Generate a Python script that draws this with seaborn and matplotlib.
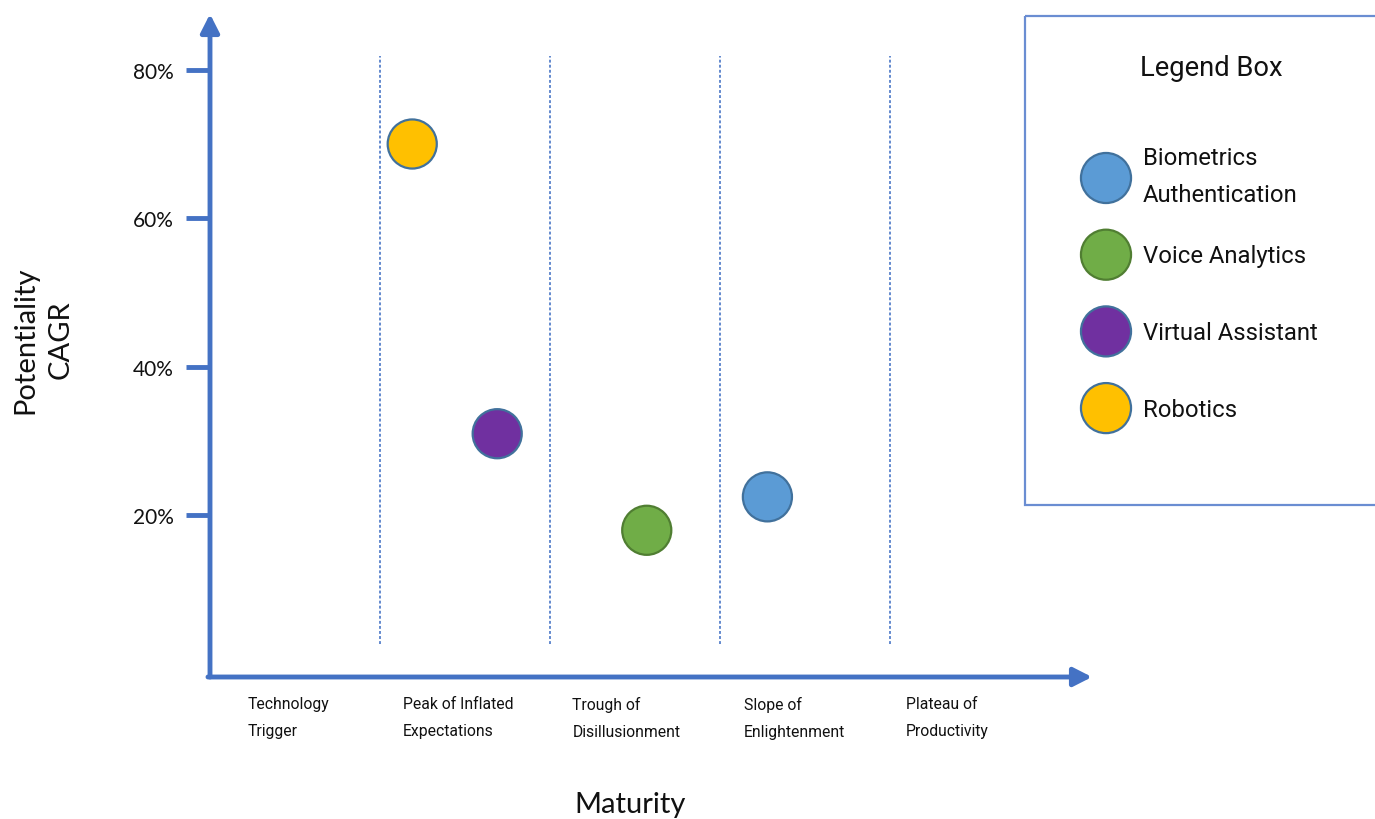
import numpy as np
import pandas as pd
import matplotlib
matplotlib.use("Agg")
import matplotlib.pyplot as plt
from matplotlib.patches import Rectangle
import seaborn as sns

# ---- data -------------------------------------------------------------
technologies = ["Biometrics\nAuthentication", "Voice Analytics",
                "Virtual Assistant", "Robotics"]
maturity = [3.28, 2.57, 1.69, 1.19]      # position along the hype cycle (stage units)
cagr = [22.5, 18, 31, 70]                # potential CAGR, %
fill_colors = ["#5B9BD5", "#70AD47", "#7030A0", "#FFC000"]
edge_colors = ["#41719C", "#507E32", "#41719C", "#41719C"]

stages = ["Technology\nTrigger", "Peak of Inflated\nExpectations",
          "Trough of\nDisillusionment", "Slope of\nEnlightenment",
          "Plateau of\nProductivity"]
y_ticks = [20, 40, 60, 80]
y_tick_labels = ["20%", "40%", "60%", "80%"]

# ---- style ------------------------------------------------------------
sns.set_theme(style="white")
NARROW = "Roboto"
MAIN = "Lato"
plt.rcParams["font.family"] = [MAIN, "DejaVu Sans"]
AXIS_BLUE = "#4472C4"
INK = "#111111"

W, H = 1375, 820
fig = plt.figure(figsize=(W / 100, H / 100), dpi=100)
fig.patch.set_facecolor("white")


def fx(px):
    return px / W


def fy(py):
    return 1 - py / H


# plotting area
ax = fig.add_axes([fx(210), fy(678), fx(1092) - fx(210), fy(15) - fy(678)])
ax.set_facecolor("white")

df = pd.DataFrame({"Technology": technologies, "Maturity": maturity, "CAGR": cagr})
sns.scatterplot(data=df, x="Maturity", y="CAGR", hue="Technology",
                palette=dict(zip(technologies, fill_colors)),
                s=1250, edgecolor=edge_colors, linewidth=1.6,
                legend=False, ax=ax, zorder=4)

XMAX, YMIN, YMAX = 5.19, -1.75, 87.5
ax.set_xlim(0, XMAX)
ax.set_ylim(YMIN, YMAX)
ax.set_xlabel("")
ax.set_ylabel("")
for s in ax.spines.values():
    s.set_visible(False)

# stage separators
ax.vlines([1, 2, 3, 4], 2.7, 81.9, colors=AXIS_BLUE, linestyles=(0, (1.6, 1.2)),
          lw=1.3, alpha=0.9, zorder=1)

# axis arrows
arrow_kw = dict(arrowstyle="-|>,head_length=0.55,head_width=0.28", color=AXIS_BLUE,
                lw=3.5, shrinkA=0, shrinkB=0, mutation_scale=20)
ax.annotate("", xy=(0, YMAX), xytext=(0, YMIN), arrowprops=arrow_kw,
            annotation_clip=False, zorder=3)
ax.annotate("", xy=(XMAX, YMIN), xytext=(-0.012, YMIN), arrowprops=arrow_kw,
            annotation_clip=False, zorder=3)

# y ticks
ax.set_yticks(y_ticks, y_tick_labels)
ax.tick_params(axis="y", left=True, length=17, width=3.5, color=AXIS_BLUE,
               pad=9, labelsize=15, labelcolor=INK)

# stage labels under the x axis
label_x = [0.46, 1.46, 2.45, 3.44, 4.34]
ax.set_xticks(label_x, stages)
ax.tick_params(axis="x", bottom=True, length=0, pad=14, labelsize=11.3,
               labelcolor=INK)
for t in ax.get_xticklabels():
    t.set_family([NARROW, "DejaVu Sans"])
    t.set_multialignment("left")
    t.set_linespacing(1.95)
    t.set_verticalalignment("top")

# axis titles
fig.text(fx(630), fy(805), "Maturity", ha="center", va="center", fontsize=21,
         color=INK)
fig.text(fx(43), fy(340), "Potentiality\nCAGR", rotation=90, ha="center",
         va="center", fontsize=21, linespacing=1.4, multialignment="center",
         color=INK)

# ---- legend box -----------------------------------------------------------
lax = fig.add_axes([0, 0, 1, 1], zorder=5)
lax.set_xlim(0, W)
lax.set_ylim(H, 0)
lax.set_axis_off()
lax.patch.set_visible(False)

lax.add_patch(Rectangle((1025, 17), 420, 489, fill=False, edgecolor="#6A8DD2",
                        lw=1.6, clip_on=False))
lax.text(1211, 69, "Legend Box", ha="center", va="center", fontsize=19.7,
         family=[NARROW, "DejaVu Sans"], color=INK)

entry_y = 179 + 76.7 * np.arange(len(technologies))
lax.scatter(np.full(len(technologies), 1106), entry_y, s=1300, c=fill_colors,
            edgecolors=edge_colors, linewidths=1.6, zorder=3)
for i, (yy, name) in enumerate(zip(entry_y, technologies)):
    lax.text(1143, yy + (-2 if "\n" in name else 1), name, ha="left", va="center",
             fontsize=17.2, family=[NARROW, "DejaVu Sans"], linespacing=1.75,
             color=INK)

fig.savefig("out.png", dpi=100, facecolor="white")
